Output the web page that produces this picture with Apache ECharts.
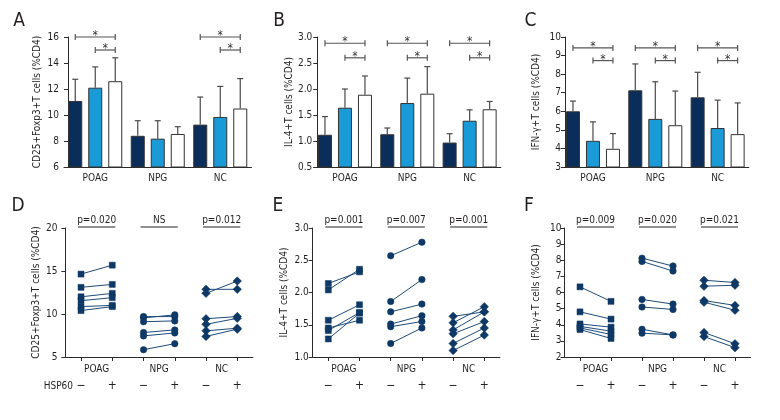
<!DOCTYPE html>
<html><head><meta charset="utf-8">
<script src="https://cdn.jsdelivr.net/npm/echarts@6/dist/echarts.min.js"></script>
<style>html,body{margin:0;padding:0;background:#fff}#c{width:780px;height:420px}</style>
</head><body><div id="c"></div>
<script>
const FONT = '"DejaVu Sans Condensed","Liberation Sans Narrow","DejaVu Sans",sans-serif';
const groups = ['POAG', 'NPG', 'NC'];

// ---- Panel A (bars: mean and SD) ----
const aDark = [11.08, 8.40, 9.26],  aDarkSD = [1.67, 1.16, 2.12];
const aBlue = [12.10, 8.18, 9.85],  aBlueSD = [1.60, 1.38, 2.35];
const aWhite = [12.60, 8.54, 10.50], aWhiteSD = [1.80, 0.56, 2.30];
// ---- Panel B ----
const bDark = [1.12, 1.13, 0.97],  bDarkSD = [0.35, 0.12, 0.17];
const bBlue = [1.64, 1.73, 1.39],  bBlueSD = [0.36, 0.48, 0.21];
const bWhite = [1.89, 1.91, 1.61], bWhiteSD = [0.36, 0.52, 0.15];
// ---- Panel C ----
const cDark = [6.00, 7.13, 6.75],  cDarkSD = [0.55, 1.42, 1.35];
const cBlue = [4.41, 5.59, 5.10],  cBlueSD = [1.02, 2.00, 1.50];
const cWhite = [3.98, 5.25, 4.77], cWhiteSD = [0.82, 1.84, 1.68];
// significance brackets: [group, level, fromBar, toBar]
const aBrackets = [[0, 16.0, 0, 2], [0, 15.0, 1, 2], [2, 16.0, 0, 2], [2, 15.0, 1, 2]];
const bBrackets = [[0, 2.88, 0, 2], [0, 2.60, 1, 2], [1, 2.88, 0, 2], [1, 2.60, 1, 2], [2, 2.88, 0, 2], [2, 2.60, 1, 2]];
const cBrackets = [[0, 9.41, 0, 2], [0, 8.73, 1, 2], [1, 9.41, 0, 2], [1, 8.73, 1, 2], [2, 9.41, 0, 2], [2, 8.73, 1, 2]];

// ---- Panel D (paired, HSP60 - / +) ----
const dPOAGpre = [14.64, 13.10, 12.00, 11.55, 10.86, 10.40];
const dPOAGpost = [15.68, 13.44, 12.40, 11.90, 11.00, 10.86];
const dNPGpre = [9.70, 9.55, 9.10, 7.85, 7.45, 5.85];
const dNPGpost = [9.70, 9.90, 9.20, 8.15, 7.80, 6.55];
const dNCpre = [12.87, 12.40, 9.45, 8.80, 8.04, 7.39];
const dNCpost = [12.87, 13.83, 9.70, 9.50, 8.35, 8.24];
// ---- Panel E ----
const ePOAGpre = [2.14, 2.04, 1.57, 1.45, 1.41, 1.28];
const ePOAGpost = [2.32, 2.36, 1.81, 1.57, 1.69, 1.68];
const eNPGpre = [2.57, 1.86, 1.70, 1.51, 1.47, 1.21];
const eNPGpost = [2.78, 2.20, 1.82, 1.64, 1.55, 1.45];
const eNCpre = [1.63, 1.53, 1.42, 1.36, 1.21, 1.10];
const eNCpost = [1.70, 1.78, 1.70, 1.55, 1.45, 1.34];
// ---- Panel F ----
const fPOAGpre = [6.35, 4.80, 4.05, 3.90, 3.80, 3.70];
const fPOAGpost = [5.45, 4.35, 3.85, 3.60, 3.40, 3.15];
const fNPGpre = [8.13, 7.93, 5.57, 5.10, 3.72, 3.48];
const fNPGpost = [7.64, 7.33, 5.28, 4.95, 3.37, 3.37];
const fNCpre = [6.76, 6.39, 5.50, 5.40, 3.52, 3.27];
const fNCpost = [6.62, 6.45, 5.20, 4.90, 2.82, 2.58];
const dP = ['p=0.020', 'NS', 'p=0.012'];
const eP = ['p=0.001', 'p=0.007', 'p=0.001'];
const fP = ['p=0.009', 'p=0.020', 'p=0.021'];

// ---- layout ----
const TXT = '#231f20', AX = '#2a2a2a', FS = 10;
const topGrids = [
  {left: 64, top: 37, width: 187.5, height: 130},
  {left: 313.8, top: 37, width: 187, height: 130},
  {left: 561.8, top: 37, width: 187, height: 130}];
const botGrids = [
  {left: 65.4, top: 228, width: 187.5, height: 129},
  {left: 312.7, top: 228, width: 187.2, height: 129},
  {left: 564.5, top: 228, width: 186, height: 129}];
const topY = [
  {min: 6, max: 16, interval: 2, name: 'CD25+Foxp3+T cells (%CD4)', gap: 26, margin: 9, off: -4, dec: 0},
  {min: 0.5, max: 3, interval: 0.5, name: 'IL-4+T cells (%CD4)', gap: 19, margin: 5, off: -3.5, dec: 1},
  {min: 3, max: 10, interval: 1, name: 'IFN-γ+T cells (%CD4)', gap: 24, margin: 4, off: -3.2, dec: 0}];
const botY = [
  {min: 5, max: 20, interval: 5, name: 'CD25+Foxp3+T cells (%CD4)', gap: 24, margin: 8, dec: 0},
  {min: 1, max: 3, interval: 0.5, name: 'IL-4+T cells (%CD4)', gap: 23.5, margin: 4, dec: 1},
  {min: 2, max: 10, interval: 1, name: 'IFN-γ+T cells (%CD4)', gap: 23.5, margin: 3, dec: 0}];

const grids = [], xAxes = [], yAxes = [], series = [];
const labelStyle = {fontFamily: FONT, fontSize: FS, color: TXT};

function yAxisCfg(g, cfg, off) {
  return {
    type: 'value', gridIndex: g, min: cfg.min, max: cfg.max, interval: cfg.interval,
    offset: off || 0,
    axisLine: {show: true, lineStyle: {color: AX, width: 1}},
    axisTick: {show: true, length: 4, lineStyle: {color: AX}},
    splitLine: {show: false},
    axisLabel: Object.assign({margin: cfg.margin, formatter: v => v.toFixed(cfg.dec)}, labelStyle),
    name: cfg.name, nameLocation: 'middle', nameGap: cfg.gap,
    nameTextStyle: {fontFamily: FONT, fontSize: FS, color: TXT}
  };
}

// top panels
const barSets = [
  [[aDark, aDarkSD], [aBlue, aBlueSD], [aWhite, aWhiteSD], aBrackets],
  [[bDark, bDarkSD], [bBlue, bBlueSD], [bWhite, bWhiteSD], bBrackets],
  [[cDark, cDarkSD], [cBlue, cBlueSD], [cWhite, cWhiteSD], cBrackets]];
const barColors = ['#0b2d59', '#1b9ad8', '#ffffff'];
const BW = 14, STEP = 20;

topGrids.forEach((gr, p) => {
  grids.push(Object.assign({outerBoundsMode: 'none'}, gr));
  xAxes.push({
    type: 'category', gridIndex: p, data: groups, position: 'bottom',
    axisLine: {show: true, lineStyle: {color: AX, width: 1}},
    axisTick: {show: false},
    axisLabel: Object.assign({margin: 6}, labelStyle)
  });
  yAxes.push(yAxisCfg(p, topY[p], topY[p].off));
  const sets = barSets[p];
  const errData = [];
  for (let b = 0; b < 3; b++) {
    const vals = sets[b][0], sds = sets[b][1];
    series.push({
      type: 'bar', xAxisIndex: p, yAxisIndex: p, data: vals, barWidth: BW, barGap: (6 / 14 * 100) + '%',
      itemStyle: {color: barColors[b], borderColor: '#333', borderWidth: 1}, silent: true, z: 2
    });
    vals.forEach((v, i) => errData.push([i, v + sds[i], b, v]));
  }
  series.push({
    type: 'custom', xAxisIndex: p, yAxisIndex: p, data: errData, clip: false, silent: true, z: 3,
    renderItem: (params, api) => {
      const base = api.coord([api.value(0), api.value(3)]);
      const top = api.coord([api.value(0), api.value(1)]);
      const x = base[0] + (api.value(2) - 1) * STEP;
      const st = {stroke: '#4a4a4a', lineWidth: 1.2};
      return {type: 'group', children: [
        {type: 'line', shape: {x1: x, y1: base[1], x2: x, y2: top[1]}, style: st},
        {type: 'line', shape: {x1: x - 3, y1: top[1], x2: x + 3, y2: top[1]}, style: st}]};
    }
  });
  series.push({
    type: 'custom', xAxisIndex: p, yAxisIndex: p, data: sets[3], clip: false, silent: true, z: 4,
    renderItem: (params, api) => {
      const c = api.coord([api.value(0), api.value(1)]);
      const x1 = c[0] + (api.value(2) - 1) * STEP, x2 = c[0] + (api.value(3) - 1) * STEP;
      const y = c[1];
      const st = {stroke: '#555', lineWidth: 1.2};
      return {type: 'group', children: [
        {type: 'line', shape: {x1: x1, y1: y, x2: x2, y2: y}, style: st},
        {type: 'line', shape: {x1: x1, y1: y - 3, x2: x1, y2: y + 3}, style: st},
        {type: 'line', shape: {x1: x2, y1: y - 3, x2: x2, y2: y + 3}, style: st},
        {type: 'text', style: {text: '*', x: (x1 + x2) / 2, y: y + 5, align: 'center', verticalAlign: 'bottom',
          fill: '#333', fontSize: 12, fontFamily: FONT}}]};
    }
  });
});

// bottom panels
const pairSets = [
  [[dPOAGpre, dPOAGpost], [dNPGpre, dNPGpost], [dNCpre, dNCpost], dP],
  [[ePOAGpre, ePOAGpost], [eNPGpre, eNPGpost], [eNCpre, eNCpost], eP],
  [[fPOAGpre, fPOAGpost], [fNPGpre, fNPGpost], [fNCpre, fNCpost], fP]];
const symbols = ['rect', 'circle', 'diamond'];
const symSizes = [6, 6.5, 8.5];
const sixCats = ['POAG-', 'POAG+', 'NPG-', 'NPG+', 'NC-', 'NC+'];

botGrids.forEach((gr, q) => {
  const gi = 3 + q;
  grids.push(Object.assign({outerBoundsMode: 'none'}, gr));
  const xi6 = xAxes.length;
  xAxes.push({
    type: 'category', gridIndex: gi, data: sixCats, position: 'bottom', boundaryGap: true,
    axisLine: {show: true, lineStyle: {color: AX, width: 1}},
    axisTick: {show: true, alignWithLabel: true, length: 4, lineStyle: {color: AX}},
    axisLabel: Object.assign({}, labelStyle, {margin: 23, fontSize: 12, interval: 0,
      formatter: (v, i) => (i % 2 ? '+' : '−')})
  });
  xAxes.push({
    type: 'category', gridIndex: gi, data: groups, position: 'bottom', boundaryGap: true,
    axisLine: {show: false}, axisTick: {show: false},
    axisLabel: Object.assign({margin: 7, interval: 0}, labelStyle)
  });
  yAxes.push(yAxisCfg(gi, botY[q], 0));
  const sets = pairSets[q];
  for (let g = 0; g < 3; g++) {
    const pre = sets[g][0], post = sets[g][1];
    pre.forEach((v, k) => {
      series.push({
        type: 'line', xAxisIndex: xi6, yAxisIndex: gi, data: [[2 * g, v], [2 * g + 1, post[k]]],
        symbol: symbols[g], symbolSize: symSizes[g], showSymbol: true, silent: true,
        lineStyle: {color: '#1d4b7c', width: 1},
        itemStyle: {color: '#0e3865', borderColor: '#0e3865', borderWidth: 0.5}, z: 3
      });
    });
  }
  const pLabels = sets[3];
  series.push({
    type: 'custom', xAxisIndex: xi6, yAxisIndex: gi, clip: false, silent: true, z: 4,
    data: [0, 1, 2].map(g => [2 * g, botY[q].max, 2 * g + 1, g]),
    renderItem: (params, api) => {
      const c1 = api.coord([api.value(0), api.value(1)]);
      const c2 = api.coord([api.value(2), api.value(1)]);
      const y = c1[1] - 1;
      return {type: 'group', children: [
        {type: 'line', shape: {x1: c1[0] - 3, y1: y, x2: c2[0] + 3, y2: y}, style: {stroke: '#222', lineWidth: 1}},
        {type: 'text', style: {text: pLabels[api.value(3)], x: (c1[0] + c2[0]) / 2, y: y - 2, align: 'center',
          verticalAlign: 'bottom', fill: TXT, fontSize: FS, fontFamily: FONT}}]};
    }
  });
});

const letters = [['A', 19, 21], ['B', 279, 21], ['C', 530.5, 21], ['D', 18, 206], ['E', 278, 206], ['F', 529, 206]];
const graphic = letters.map(l => ({type: 'text', style: {text: l[0], x: l[1], y: l[2], align: 'center',
  verticalAlign: 'middle', fontSize: 19, fontFamily: FONT, fill: TXT}}));
graphic.push({type: 'text', style: {text: 'HSP60', x: 73, y: 386, align: 'right', verticalAlign: 'middle',
  fontSize: FS, fontFamily: FONT, fill: TXT}});

const chart = echarts.init(document.getElementById('c'));
chart.setOption({
  animation: false, backgroundColor: '#fff',
  grid: grids, xAxis: xAxes, yAxis: yAxes, series: series, graphic: graphic
});
</script></body></html>
